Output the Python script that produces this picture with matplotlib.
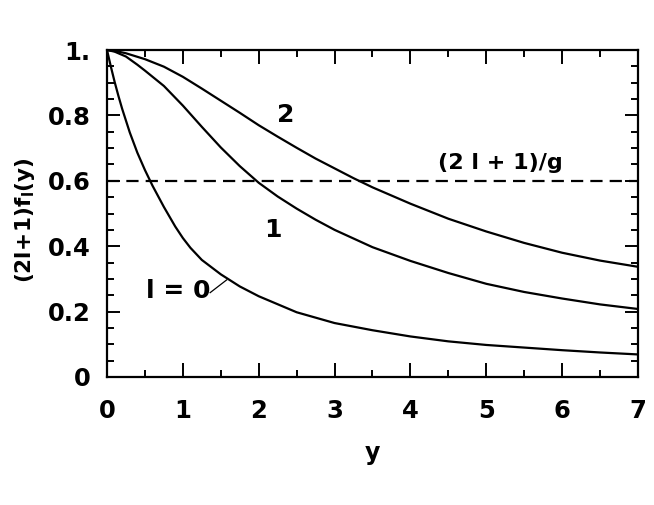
import matplotlib
matplotlib.use("Agg")
import matplotlib.pyplot as plt
from matplotlib.ticker import MultipleLocator

plt.rcParams['font.family'] = ['DejaVu Sans']
plt.rcParams['font.weight'] = 'bold'
plt.rcParams['mathtext.fontset'] = 'dejavusans'

# data
y0_x = [0, 0.05, 0.1, 0.15, 0.2, 0.3, 0.4, 0.5, 0.6, 0.75, 0.9, 1.0, 1.1, 1.25, 1.5, 1.75, 2.0, 2.5, 3.0, 3.5, 4.0, 4.5, 5.0, 5.5, 6.0, 6.5, 7.0]
y0_v = [1.0, 0.95, 0.903, 0.860, 0.82, 0.748, 0.686, 0.633, 0.585, 0.52, 0.46, 0.425, 0.395, 0.358, 0.314, 0.277, 0.247, 0.198, 0.165, 0.143, 0.124, 0.109, 0.098, 0.090, 0.082, 0.075, 0.069]

y1_x = [0, 0.1, 0.25, 0.4, 0.5, 0.75, 1.0, 1.25, 1.5, 1.75, 2.0, 2.25, 2.5, 2.75, 3.0, 3.5, 4.0, 4.5, 5.0, 5.5, 6.0, 6.5, 7.0]
y1_v = [1.0, 0.995, 0.98, 0.955, 0.937, 0.89, 0.83, 0.765, 0.702, 0.645, 0.594, 0.552, 0.515, 0.481, 0.45, 0.397, 0.355, 0.318, 0.285, 0.26, 0.24, 0.222, 0.208]

y2_x = [0, 0.15, 0.25, 0.5, 0.75, 1.0, 1.25, 1.5, 1.75, 2.0, 2.25, 2.5, 2.75, 3.0, 3.25, 3.5, 3.75, 4.0, 4.5, 5.0, 5.5, 6.0, 6.5, 7.0]
y2_v = [1.0, 0.995, 0.99, 0.972, 0.949, 0.918, 0.882, 0.845, 0.808, 0.77, 0.735, 0.701, 0.668, 0.638, 0.608, 0.58, 0.555, 0.53, 0.484, 0.445, 0.41, 0.38, 0.356, 0.337]

threshold = 0.6

x_ticks = [0, 1, 2, 3, 4, 5, 6, 7]
x_ticklabels = ["0", "1", "2", "3", "4", "5", "6", "7"]
y_ticks = [0, 0.2, 0.4, 0.6, 0.8, 1.0]
y_ticklabels = ["0", "0.2", "0.4", "0.6", "0.8", "1."]

fig = plt.figure(figsize=(6.54, 5.05), dpi=100)
ax = fig.add_axes([107/654, 1 - 377/505, (638-107)/654, (377-50)/505])

lw = 1.6
ax.plot(y0_x, y0_v, color='black', lw=lw)
ax.plot(y1_x, y1_v, color='black', lw=lw)
ax.plot(y2_x, y2_v, color='black', lw=lw)
ax.axhline(threshold, color='black', lw=lw, dashes=(5.5, 3.2))

ax.set_xlim(0, 7)
ax.set_ylim(0, 1)
ax.set_xticks(x_ticks)
ax.set_xticklabels(x_ticklabels)
ax.set_yticks(y_ticks)
ax.set_yticklabels(y_ticklabels)
ax.xaxis.set_minor_locator(MultipleLocator(0.5))
ax.yaxis.set_minor_locator(MultipleLocator(0.05))

for s in ax.spines.values():
    s.set_linewidth(1.6)

ax.tick_params(axis='both', which='both', direction='in', top=True, right=True, width=1.4)
ax.tick_params(axis='both', which='major', labelsize=17.5)
ax.tick_params(axis='x', which='major', length=10, pad=16)
ax.tick_params(axis='y', which='major', length=9.5, pad=12)
ax.tick_params(axis='both', which='minor', length=5)

ax.set_xlabel("y", fontsize=17, fontweight='bold', va='center')
ax.xaxis.set_label_coords(0.5, -0.232)
ax.set_ylabel(r"$\mathbf{(2l\!+\!1)f_l(y)}$", fontsize=15.5, va='center')
ax.yaxis.set_label_coords(-0.154, 0.48)

ax.text(2.35, 0.80, "2", fontsize=18, fontweight='bold', ha='center', va='center')
ax.text(2.19, 0.45, "1", fontsize=18, fontweight='bold', ha='center', va='center')
ax.text(0.94, 0.262, "l = 0", fontsize=18, fontweight='bold', ha='center', va='center')
ax.plot([1.36, 1.578], [0.258, 0.297], color='black', lw=0.9)
ax.text(5.18, 0.655, "(2 l + 1)/g", fontsize=16, fontweight='bold', ha='center', va='center')

fig.savefig("out.png", dpi=100)
